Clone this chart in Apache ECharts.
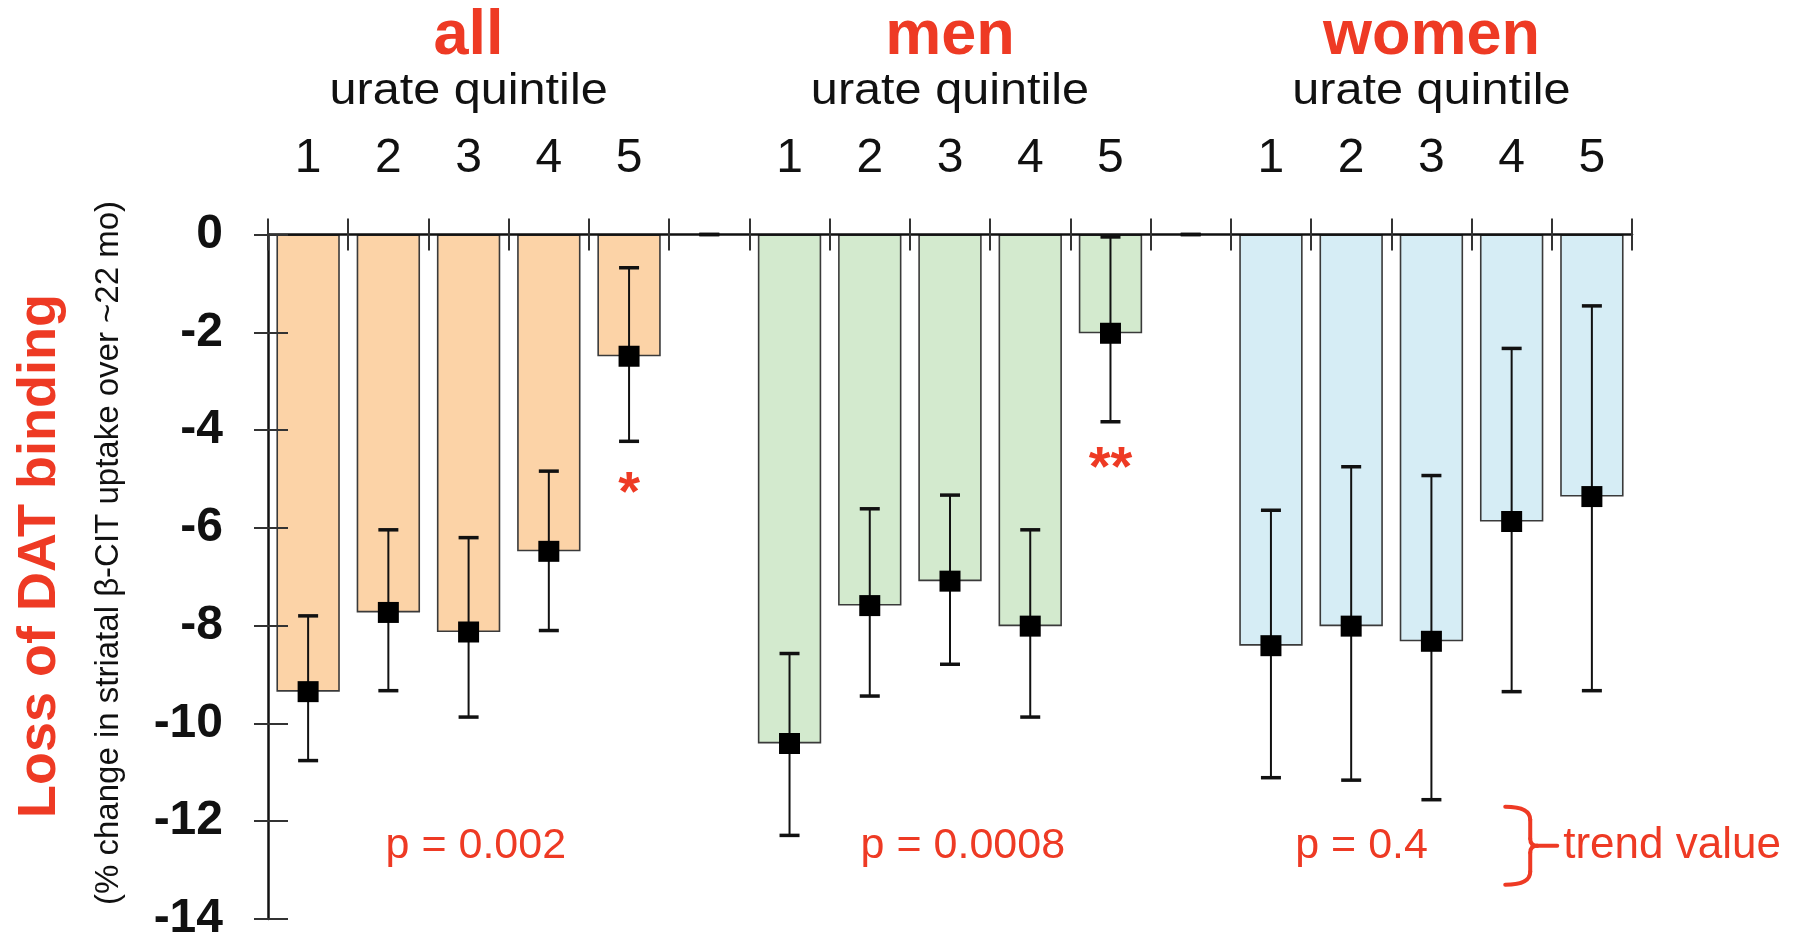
<!DOCTYPE html>
<html>
<head>
<meta charset="utf-8">
<script src="https://cdn.jsdelivr.net/npm/echarts@6/dist/echarts.min.js"></script>
<style>
  html, body { margin: 0; padding: 0; background: #fff; }
  #chart { width: 1802px; height: 936px; }
</style>
</head>
<body>
<div id="chart"></div>
<script>
// ---- data -------------------------------------------------------------
const groupNames = ['all', 'men', 'women'];
const groupSubtitle = 'urate quintile';
const quintileLabels = ['1', '2', '3', '4', '5'];
const yTickValues = { min: -14, max: 0, interval: 2 };

// mean % change in striatal beta-CIT uptake, by urate quintile
const allMean   = [-9.35, -7.73, -8.13, -6.48, -2.49];
const menMean   = [-10.41, -7.59, -7.09, -8.01, -2.02];
const womenMean = [-8.41, -8.01, -8.32, -5.87, -5.36];

// error bar bounds (lower / upper)
const allLow    = [-10.76, -9.33, -9.87, -8.10, -4.23];
const allHigh   = [-7.80, -6.04, -6.20, -4.84, -0.68];
const menLow    = [-12.29, -9.44, -8.79, -9.87, -3.83];
const menHigh   = [-8.57, -5.61, -5.33, -6.04, -0.05];
const womenLow  = [-11.11, -11.16, -11.56, -9.35, -9.33];
const womenHigh = [-5.64, -4.75, -4.93, -2.33, -1.46];

// trend p values per group, and significance marks (group, quintile)
const trendP = ['p = 0.002', 'p = 0.0008', 'p = 0.4'];
const sigText = ['*', '**'];
const sigGroup = [0, 1];
const sigQuintile = [4, 4];

// ---- layout / style ---------------------------------------------------
const RED = '#EE3A24';
const FONT = '"Liberation Sans", Arial, Helvetica, sans-serif';
const groupColors = ['#FCD3A7', '#D3EACE', '#D6EDF5'];
const sigY = [-5.05, -4.55];          // vertical placement of the stars
const pLabelX = [2.59, 8.66, 13.63];  // slot units along the category band
const pLabelY = -12.5;

const means = [allMean, menMean, womenMean];
const lows = [allLow, menLow, womenLow];
const highs = [allHigh, menHigh, womenHigh];

// build the 17-slot category band: 5 quintiles per group with a spacer between groups
const categories = [], tickText = [], barData = [], errData = [], markerData = [], groupCenter = [], groupStart = [];
groupNames.forEach((g, gi) => {
  if (gi > 0) {
    const idx = categories.length;
    categories.push('gap ' + gi);
    tickText.push('');
    barData.push('-');
    errData.push([idx, 0, 0]);
  }
  groupStart.push(categories.length);
  quintileLabels.forEach((q, qi) => {
    const idx = categories.length;
    categories.push(g + ' ' + q);
    tickText.push(q);
    barData.push({ value: means[gi][qi], itemStyle: { color: groupColors[gi] } });
    errData.push([idx, lows[gi][qi], highs[gi][qi]]);
    markerData.push([idx, means[gi][qi]]);
    if (qi === 2) groupCenter.push(idx);
  });
});

const annotationData = [];
sigText.forEach((t, i) => {
  annotationData.push({
    value: [groupStart[sigGroup[i]] + sigQuintile[i] + 0.5, sigY[i]],
    label: { formatter: t, fontSize: 56, fontWeight: 'bold', offset: [0, 13] }
  });
});
trendP.forEach((t, i) => {
  annotationData.push({ value: [pLabelX[i], pLabelY], label: { formatter: t, fontSize: 43 } });
});

const chart = echarts.init(document.getElementById('chart'));

const GRID = { left: 268, right: 170, top: 234.5, bottom: 17 };

chart.setOption({
  animation: false,
  backgroundColor: '#ffffff',
  grid: { left: GRID.left, right: GRID.right, top: GRID.top, bottom: GRID.bottom, outerBoundsMode: 'none', containLabel: false },
  xAxis: [
    {
      type: 'category', data: categories, position: 'top', z: 10,
      axisLine: { show: true, lineStyle: { color: '#111', width: 2.5 } },
      axisTick: { show: true, length: 16, lineStyle: { color: '#333', width: 2 } },
      axisLabel: {
        show: true, margin: 52, fontSize: 48, color: '#111', fontFamily: FONT,
        formatter: (v, i) => tickText[i]
      },
      splitLine: { show: false }
    },
    {
      type: 'category', data: categories, position: 'top', z: 10,
      axisLine: { show: false },
      axisTick: { show: true, inside: true, length: 16, lineStyle: { color: '#333', width: 2 } },
      axisLabel: { show: false },
      splitLine: { show: false }
    },
    { type: 'value', min: 0, max: categories.length, show: false }
  ],
  yAxis: [
    {
      type: 'value', min: yTickValues.min, max: yTickValues.max, interval: yTickValues.interval, z: 10,
      axisLine: { show: true, onZero: false, lineStyle: { color: '#111', width: 2.5 } },
      axisTick: { show: true, length: 14, lineStyle: { color: '#333', width: 2 } },
      axisLabel: { margin: 45, fontSize: 48, fontWeight: 'bold', color: '#111', fontFamily: FONT },
      splitLine: { show: false }
    },
    {
      type: 'value', min: yTickValues.min, max: yTickValues.max, interval: yTickValues.interval, z: 10,
      position: 'left',
      axisLine: { show: false },
      axisTick: { show: true, inside: true, length: 20, lineStyle: { color: '#333', width: 2 } },
      axisLabel: { show: false },
      splitLine: { show: false }
    }
  ],
  series: [
    {
      type: 'bar', xAxisIndex: 0, yAxisIndex: 0, data: barData, barWidth: '79%',
      itemStyle: { borderColor: '#3a3a3a', borderWidth: 1.6 },
      z: 2
    },
    {
      type: 'custom', xAxisIndex: 0, yAxisIndex: 0, data: errData, z: 4,
      encode: { x: 0, y: [1, 2] },
      renderItem(params, api) {
        const x = api.value(0);
        const lo = api.coord([x, api.value(1)]);
        const hi = api.coord([x, api.value(2)]);
        const half = 10;
        return {
          type: 'group',
          children: [
            { type: 'line', shape: { x1: lo[0], y1: lo[1], x2: hi[0], y2: hi[1] }, style: { stroke: '#111', lineWidth: 2 } },
            { type: 'line', shape: { x1: lo[0] - half, y1: lo[1], x2: lo[0] + half, y2: lo[1] }, style: { stroke: '#111', lineWidth: 3.5 } },
            { type: 'line', shape: { x1: hi[0] - half, y1: hi[1], x2: hi[0] + half, y2: hi[1] }, style: { stroke: '#111', lineWidth: 3.5 } }
          ]
        };
      }
    },
    {
      type: 'scatter', xAxisIndex: 0, yAxisIndex: 0, data: markerData, z: 5,
      symbol: 'rect', symbolSize: 21, itemStyle: { color: '#000000', opacity: 1 }
    },
    {
      type: 'scatter', xAxisIndex: 2, yAxisIndex: 0, data: annotationData, z: 6,
      symbolSize: 1, itemStyle: { color: 'rgba(0,0,0,0)', opacity: 1 },
      label: { show: true, position: 'inside', color: RED, opacity: 1, fontFamily: FONT }
    }
  ]
});

// group titles, axis titles and the trend bracket, placed from the axes
const cx = idx => chart.convertToPixel({ xAxisIndex: 0 }, idx);
const pY = chart.convertToPixel({ yAxisIndex: 0 }, pLabelY);
const bx = chart.convertToPixel({ xAxisIndex: 2 }, 15.42);
const graphics = [];
groupNames.forEach((g, gi) => {
  const x = cx(groupCenter[gi]);
  graphics.push({ type: 'text', x: x, y: 37, style: { text: g, fill: RED, font: 'bold 63px ' + FONT, align: 'center', verticalAlign: 'middle' } });
  graphics.push({ type: 'text', x: x, y: 92, scaleX: 1.08, style: { text: groupSubtitle, fill: '#111', font: '45px ' + FONT, align: 'center', verticalAlign: 'middle' } });
});
graphics.push({
  type: 'text', x: 40, y: 556, rotation: Math.PI / 2,
  style: { text: 'Loss of DAT binding', fill: RED, font: 'bold 54px ' + FONT, align: 'center', verticalAlign: 'middle' }
});
graphics.push({
  type: 'text', x: 109, y: 553, rotation: Math.PI / 2,
  style: { text: '(% change in striatal \u03b2-CIT uptake over ~22 mo)', fill: '#111', font: '33px ' + FONT, align: 'center', verticalAlign: 'middle' }
});
// curly bracket "}" grouping the trend values
const braceStyle = { stroke: RED, lineWidth: 4, fill: null, lineCap: 'round' };
graphics.push({
  type: 'group', x: bx, y: pY - 39,
  children: [
    { type: 'bezierCurve', shape: { x1: 0, y1: 0, cpx1: 25, cpy1: 0, x2: 25, y2: 13 }, style: braceStyle },
    { type: 'line', shape: { x1: 25, y1: 13, x2: 25, y2: 32 }, style: braceStyle },
    { type: 'bezierCurve', shape: { x1: 25, y1: 32, cpx1: 25, cpy1: 39, x2: 32, y2: 39 }, style: braceStyle },
    { type: 'line', shape: { x1: 32, y1: 39, x2: 52, y2: 39 }, style: braceStyle },
    { type: 'bezierCurve', shape: { x1: 32, y1: 39, cpx1: 25, cpy1: 39, x2: 25, y2: 46 }, style: braceStyle },
    { type: 'line', shape: { x1: 25, y1: 46, x2: 25, y2: 65 }, style: braceStyle },
    { type: 'bezierCurve', shape: { x1: 25, y1: 65, cpx1: 25, cpy1: 78, x2: 0, y2: 78 }, style: braceStyle }
  ]
});
graphics.push({
  type: 'text', x: bx + 58, y: pY,
  style: { text: 'trend value', fill: RED, font: '44px ' + FONT, align: 'left', verticalAlign: 'middle' }
});
chart.setOption({ graphic: graphics });
</script>
</body>
</html>
